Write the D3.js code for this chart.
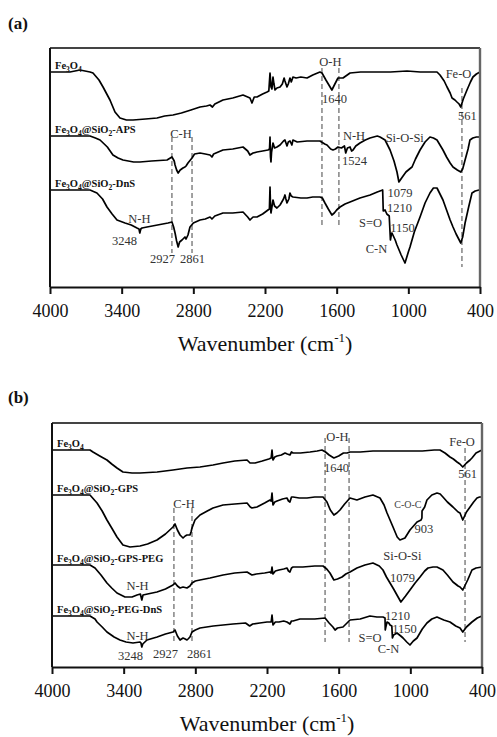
<!DOCTYPE html>
<html>
<head>
<meta charset="utf-8">
<script src="https://cdn.jsdelivr.net/npm/d3@7"></script>
<style>
  body { margin: 0; background: #fff; }
  svg { display: block; }
</style>
</head>
<body>
<svg id="chart" width="497" height="737"></svg>
<script>
// ---------- data ----------
const wavenumberTicks = [4000, 3400, 2800, 2200, 1600, 1000, 400];

// FTIR spectra, [wavenumber (cm-1), transmittance (a.u., vertically offset)]
const aFe3O4 = [
  [4000,215],[3833,215],[3749,217],[3665,215],[3640,214],[3590,207],[3556,200],[3498,187],[3456,175],[3414,169],
  [3360,167],[3305,167],[3200,168],[3104,169],[3040,171],[2970,172],[2900,174],[2820,177],[2744,180],[2690,181],
  [2660,182],[2640,180],[2620,183],[2552,187],[2470,189],[2384,192],[2345,190],[2326,189],[2309,184],[2290,190],
  [2267,190],[2220,193],[2183,195],[2168,196],[2158,214],[2152,205],[2150,200],[2142,198],[2133,210],[2125,203],
  [2116,197],[2100,199],[2074,200],[2055,203],[2040,209],[2033,206],[2016,200],[2005,203],[1991,209],[1980,205],
  [1966,210],[1940,209],[1900,210],[1848,209],[1800,212],[1740,215],[1723,214],[1690,207],[1660,201],[1640,197],
  [1615,203],[1589,209],[1547,209],[1488,214],[1400,215],[1296,215],[1150,215],[1011,216],[900,215],[800,215],
  [760,215],[735,212],[700,206],[676,200],[650,194],[634,189],[610,187],[593,185],[575,183],[561,180],
  [540,188],[509,197],[480,205],[459,210],[430,213],[400,215]
];
const aAPS = [
  [4000,151],[3800,151],[3665,151],[3620,149],[3581,147],[3520,140],[3473,132],[3430,129],[3389,127],[3300,125],
  [3247,125],[3150,126],[3020,127],[2979,130],[2960,126],[2953,122],[2940,117],[2927,114],[2910,117],[2887,119],
  [2870,120],[2861,121],[2845,124],[2811,129],[2790,133],[2744,134],[2700,133],[2660,132],[2644,130],[2630,133],
  [2552,137],[2470,138],[2384,140],[2345,136],[2326,132],[2300,134],[2267,135],[2220,136],[2175,137],[2162,138],
  [2158,150],[2154,130],[2150,125],[2145,135],[2133,144],[2120,139],[2100,140],[2074,142],[2045,146],[2033,147],
  [2016,141],[2005,145],[1991,146],[1975,142],[1966,147],[1930,145],[1848,146],[1740,146],[1700,143],[1681,142],
  [1650,138],[1631,137],[1610,138],[1589,140],[1560,139],[1535,141],[1524,134],[1510,139],[1488,140],[1475,136],
  [1463,137],[1440,141],[1405,144],[1360,147],[1321,149],[1260,151],[1237,150],[1195,147],[1153,137],[1120,126],
  [1095,115],[1079,105],[1050,110],[1020,115],[990,118],[969,120],[940,128],[902,137],[860,145],[819,150],
  [790,149],[760,147],[735,142],[710,137],[680,130],[650,124],[626,120],[590,117],[561,115],[545,118],
  [525,127],[500,138],[484,147],[460,149],[430,150],[400,150]
];
const aDnS = [
  [4000,97],[3800,97],[3665,97],[3607,94],[3560,88],[3523,80],[3480,73],[3439,67],[3372,64],[3320,62],
  [3272,59],[3255,58],[3248,54],[3240,58],[3230,59],[3188,60],[3100,62],[3012,64],[2979,65],[2965,60],
  [2953,54],[2940,46],[2927,40],[2915,45],[2895,47],[2870,50],[2861,48],[2845,52],[2828,60],[2800,64],
  [2744,67],[2700,68],[2660,70],[2644,68],[2620,71],[2552,74],[2470,74],[2384,75],[2345,70],[2326,67],
  [2300,70],[2267,70],[2220,73],[2175,77],[2163,78],[2158,100],[2154,82],[2150,74],[2142,80],[2133,87],
  [2120,81],[2100,79],[2074,82],[2045,88],[2033,92],[2025,88],[2016,84],[2000,88],[1991,94],[1980,91],
  [1966,90],[1900,89],[1848,89],[1800,90],[1740,90],[1720,89],[1698,84],[1670,78],[1640,72],[1620,74],
  [1600,77],[1572,80],[1530,83],[1488,85],[1405,89],[1320,92],[1260,95],[1215,97],[1210,76],[1195,77],
  [1180,73],[1160,71],[1150,47],[1143,52],[1137,54],[1110,47],[1095,42],[1060,32],[1028,24],[1000,35],
  [986,40],[950,55],[902,70],[860,84],[819,94],[790,99],[760,99],[735,93],[710,87],[680,77],
  [650,67],[626,60],[600,53],[561,44],[545,50],[525,64],[495,80],[467,94],[440,96],[408,97],[400,97]
];

const bFe3O4 = [
  [4000,217],[3850,217],[3682,217],[3657,215],[3600,211],[3540,207],[3500,203],[3456,199],[3406,195],[3330,194],
  [3263,194],[3120,195],[2987,197],[2870,199],[2761,200],[2652,202],[2568,204],[2470,206],[2367,207],[2342,204],
  [2320,204],[2300,204],[2240,206],[2185,208],[2165,209],[2158,217],[2153,210],[2150,207],[2135,210],[2116,211],
  [2080,212],[2049,214],[2030,213],[2008,212],[1995,215],[1982,214],[1920,214],[1840,215],[1780,216],[1740,217],
  [1710,215],[1680,212],[1640,209],[1600,211],[1560,214],[1530,214],[1505,215],[1420,215],[1313,216],[1150,216],
  [1028,216],[900,216],[800,217],[752,217],[710,214],[668,210],[640,208],[609,205],[585,203],[561,200],
  [530,204],[500,207],[484,209],[450,214],[400,217]
];
const bGPS = [
  [4000,172],[3850,172],[3682,172],[3623,164],[3580,156],[3540,147],[3500,139],[3456,130],[3406,122],[3347,120],
  [3263,121],[3200,123],[3121,127],[3050,133],[2987,140],[2970,143],[2950,137],[2928,132],[2903,129],[2885,131],
  [2870,132],[2845,132],[2836,135],[2828,139],[2803,147],[2761,152],[2700,156],[2652,159],[2568,162],[2470,163],
  [2367,164],[2340,160],[2326,159],[2284,160],[2220,164],[2175,167],[2165,166],[2158,174],[2153,166],[2150,162],
  [2135,165],[2116,166],[2070,168],[2033,169],[2020,166],[2008,165],[1995,170],[1982,170],[1930,169],[1865,169],
  [1800,170],[1731,170],[1698,165],[1670,157],[1640,152],[1615,154],[1589,157],[1550,163],[1505,169],[1447,167],
  [1380,170],[1313,172],[1254,169],[1220,162],[1195,154],[1145,140],[1110,130],[1087,127],[1045,129],[1003,137],
  [944,145],[910,147],[903,149],[902,156],[880,160],[861,167],[820,172],[777,174],[750,173],[727,170],
  [690,165],[643,160],[600,155],[584,154],[561,147],[530,155],[500,160],[470,165],[442,169],[420,170],[400,170]
];
const bGPSPEG = [
  [4000,102],[3850,102],[3682,102],[3640,99],[3590,92],[3540,84],[3500,79],[3456,74],[3389,70],[3330,70],
  [3288,72],[3260,73],[3248,67],[3238,72],[3200,73],[3121,75],[3050,78],[2987,82],[2970,84],[2950,81],
  [2928,79],[2903,80],[2870,79],[2845,81],[2828,84],[2800,86],[2761,87],[2677,89],[2568,92],[2470,94],
  [2367,95],[2340,93],[2326,92],[2290,93],[2220,94],[2175,95],[2165,94],[2158,100],[2153,95],[2150,93],
  [2130,96],[2100,97],[2060,98],[2033,99],[2020,96],[2008,95],[1995,99],[1982,100],[1900,100],[1800,101],
  [1731,101],[1700,98],[1673,94],[1640,87],[1610,88],[1572,90],[1540,93],[1505,95],[1447,99],[1380,102],
  [1313,104],[1260,101],[1229,97],[1200,90],[1170,84],[1140,78],[1112,72],[1079,65],[1040,71],[1003,77],
  [960,84],[919,90],[880,96],[852,99],[810,100],[777,100],[727,97],[690,92],[643,85],[600,81],
  [584,80],[561,77],[520,87],[484,97],[450,99],[400,100]
];
const bPEGDnS = [
  [4000,51],[3850,51],[3682,51],[3640,48],[3623,45],[3580,40],[3540,35],[3480,30],[3431,27],[3380,25],
  [3322,24],[3263,25],[3255,24],[3248,20],[3240,23],[3205,27],[3120,30],[3050,33],[2987,35],[2970,37],
  [2950,31],[2928,27],[2903,29],[2885,28],[2870,27],[2861,28],[2845,30],[2828,35],[2800,37],[2761,39],
  [2650,41],[2485,43],[2380,44],[2345,41],[2320,43],[2260,44],[2200,45],[2165,45],[2158,52],[2153,46],
  [2150,42],[2130,45],[2100,45],[2060,46],[2033,45],[2020,44],[2008,43],[1995,46],[1982,46],[1924,48],
  [1800,48],[1714,49],[1680,44],[1648,40],[1630,37],[1610,39],[1564,40],[1530,44],[1505,47],[1420,48],
  [1338,51],[1280,50],[1229,50],[1212,49],[1210,37],[1205,40],[1195,45],[1180,44],[1170,42],[1155,41],
  [1150,29],[1140,32],[1112,34],[1080,31],[1061,29],[1030,25],[1003,22],[975,26],[944,29],[900,38],
  [861,44],[820,48],[777,50],[720,47],[668,45],[620,41],[584,39],[561,35],[530,40],[484,45],
  [440,49],[400,51]
];

const aSeriesNames = ["Fe3O4", "Fe3O4@SiO2-APS", "Fe3O4@SiO2-DnS"];
const bSeriesNames = ["Fe3O4", "Fe3O4@SiO2-GPS", "Fe3O4@SiO2-GPS-PEG", "Fe3O4@SiO2-PEG-DnS"];

// band guides: [wavenumber, upper a.u., lower a.u.]
const aGuides = [[2979,150,34],[2811,150,34],[1723,219,59],[1581,219,59],[551,199,20]];
const bGuides = [[2979,159,24],[2828,159,24],[1714,229,25],[1513,229,25],[542,219,25]];

// band assignments: [text, wavenumber, a.u.] (text centred there)
const aNotes = [
  ["C-H",2903,149],["N-H",3251,64],["3248",3376,42],["2927",3058,24],["2861",2807,24],
  ["O-H",1652,221],["1640",1618,184],["Fe-O",580,209],["561",505,167],
  ["N-H",1455,147],["1524",1451,122],["Si-O-Si",1030,145],["1079",1070,90],
  ["1210",1074,75],["S=O",1317,60],["1150",1049,55],["C-N",1267,34]
];
const bNotes = [
  ["C-H",2895,159],["N-H",3284,77],["N-H",3284,27],["3248",3343,7],["2927",3050,9],["2861",2765,9],
  ["O-H",1610,226],["1640",1618,195],["Fe-O",567,221],["561",521,189],
  ["903",886,134],["Si-O-Si",1066,107],["1079",1066,85],
  ["1210",1107,47],["1150",1049,34],["S=O",1338,25],["C-N",1183,14]
];
const bSmallNotes = [["C-O-C",1020,159]];

// ---------- drawing ----------
const svg = d3.select("#chart");
svg.append("rect").attr("width", 497).attr("height", 737).attr("fill", "#fff");

const SERIF = "'Liberation Serif', 'Times New Roman', serif";

const panels = [
  { tag: "(a)", tagY: 29, left: 50, right: 480, top: 48, bottom: 287, yMax: 239,
    series: [aFe3O4, aAPS, aDnS], names: aSeriesNames, guides: aGuides, notes: aNotes, small: [] },
  { tag: "(b)", tagY: 403, left: 52, right: 482, top: 423, bottom: 667, yMax: 244,
    series: [bFe3O4, bGPS, bGPSPEG, bPEGDnS], names: bSeriesNames, guides: bGuides, notes: bNotes, small: bSmallNotes }
];

// formula text: digits become subscripts
function chemText(textSel, str, size) {
  const parts = str.match(/\d+|[^\d]+/g);
  let shifted = false;
  parts.forEach(p => {
    const isSub = /^\d+$/.test(p);
    const t = textSel.append("tspan").text(p);
    if (isSub) {
      t.attr("font-size", size * 0.72).attr("dy", shifted ? 0 : size * 0.25);
      shifted = true;
    } else {
      t.attr("dy", shifted ? -size * 0.25 : 0);
      shifted = false;
    }
  });
}

panels.forEach(p => {
  const g = svg.append("g");
  const x = d3.scaleLinear().domain([4000, 400]).range([p.left, p.right]);
  const y = d3.scaleLinear().domain([0, p.yMax]).range([p.bottom, p.top]);

  // panel tag
  g.append("text").attr("x", 8).attr("y", p.tagY)
    .attr("font-family", SERIF).attr("font-weight", "bold").attr("font-size", 17)
    .attr("fill", "#111").text(p.tag);

  // band guides
  g.selectAll("line.guide").data(p.guides).join("line")
    .attr("class", "guide")
    .attr("x1", d => x(d[0])).attr("x2", d => x(d[0]))
    .attr("y1", d => y(d[1])).attr("y2", d => y(d[2]))
    .attr("stroke", "#444").attr("stroke-width", 1)
    .attr("stroke-dasharray", "5,3");

  // spectra
  const line = d3.line().x(d => x(d[0])).y(d => y(d[1])).curve(d3.curveLinear);
  g.selectAll("path.spec").data(p.series).join("path")
    .attr("class", "spec")
    .attr("d", line)
    .attr("fill", "none").attr("stroke", "#000")
    .attr("stroke-width", 1.7).attr("stroke-linejoin", "round");

  // sample names
  p.series.forEach((s, i) => {
    const t = g.append("text")
      .attr("x", x(s[0][0]) + 5).attr("y", y(s[0][1]) - 3)
      .attr("font-family", SERIF).attr("font-weight", "bold").attr("font-size", 10.5)
      .attr("fill", "#111");
    chemText(t, p.names[i], 10.5);
  });

  // band notes
  g.selectAll("text.note").data(p.notes).join("text")
    .attr("class", "note")
    .attr("x", d => x(d[1])).attr("y", d => y(d[2]))
    .attr("text-anchor", "middle")
    .attr("font-family", SERIF).attr("font-size", 12.5).attr("fill", "#333")
    .text(d => d[0]);
  g.selectAll("text.small").data(p.small).join("text")
    .attr("class", "small")
    .attr("x", d => x(d[1])).attr("y", d => y(d[2]))
    .attr("text-anchor", "middle")
    .attr("font-family", SERIF).attr("font-size", 10).attr("fill", "#444")
    .text(d => d[0]);

  // frame
  g.append("line").attr("x1", p.left).attr("x2", p.right).attr("y1", p.top).attr("y2", p.top)
    .attr("stroke", "#444").attr("stroke-width", 1.8);
  g.append("line").attr("x1", p.right).attr("x2", p.right).attr("y1", p.top).attr("y2", p.bottom)
    .attr("stroke", "#666").attr("stroke-width", 2.4);
  g.append("line").attr("x1", p.left).attr("x2", p.left).attr("y1", p.top).attr("y2", p.bottom)
    .attr("stroke", "#111").attr("stroke-width", 2);

  // wavenumber axis
  const ax = g.append("g").attr("transform", `translate(0,${p.bottom})`)
    .call(d3.axisBottom(x).tickValues(wavenumberTicks).tickSize(7).tickSizeOuter(0)
      .tickPadding(10).tickFormat(d3.format("d")));
  ax.select(".domain").attr("stroke", "#111").attr("stroke-width", 2);
  ax.selectAll(".tick line").attr("stroke", "#111").attr("stroke-width", 2);
  ax.selectAll(".tick text").attr("font-family", SERIF).attr("font-size", 18).attr("fill", "#111");

  const title = g.append("text")
    .attr("x", (p.left + p.right) / 2).attr("y", p.bottom + 64)
    .attr("text-anchor", "middle")
    .attr("font-family", SERIF).attr("font-size", 22).attr("fill", "#111");
  title.append("tspan").text("Wavenumber (cm");
  title.append("tspan").attr("font-size", 13).attr("dy", -9).text("-1");
  title.append("tspan").attr("dy", 9).text(")");
});
</script>
</body>
</html>
